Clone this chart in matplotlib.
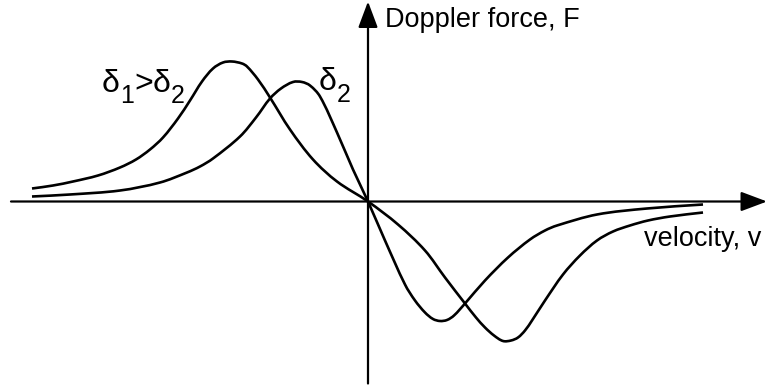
import matplotlib

matplotlib.use('Agg')
import matplotlib.pyplot as plt
from matplotlib.path import Path
from matplotlib.patches import PathPatch
import numpy as np

plt.rcParams['font.family'] = ['Liberation Sans', 'DejaVu Sans']

# curva com delta1 (maior dessintonia)
v_d1 = [-336, -315, -295, -270, -248, -232, -218, -205, -190, -178, -166,
        -155, -145, -136, -126, -121, -110, -98, -78, -55, -31, 0,
        30, 57, 77, 97, 108, 117, 126, 135, 143, 150, 157, 164, 177, 195,
        212, 229, 245, 262, 280, 302, 335]
F_d1 = [13, 16, 20, 26, 34, 42, 52, 64, 83, 101, 120,
        133, 139, 140, 138, 135, 122, 104, 72, 42, 20, 0,
        -23, -49, -76, -102, -116, -126, -134, -139.5, -139, -136, -129, -119,
        -99, -73, -54, -39, -30, -24, -19, -15, -11]

# curva com delta2
v_d2 = [-336, -298, -248, -208, -181, -168, -155, -128, -112, -98, -87, -75,
        -66, -58, -48, -31, -15, 0,
        17, 37, 47, 57, 65, 72, 79, 86, 97, 117, 140, 162, 177, 189, 229,
        279, 335]
F_d2 = [5, 7, 11, 19, 29, 35, 43, 65, 84, 103, 113, 119.5,
        119.5, 116, 105, 69, 32, 0,
        -39, -83, -99, -111, -117.5, -119.5, -118.5, -114, -102, -79, -56,
        -38, -29, -24, -13, -7, -3]


def curva_suave(xs, ys):
    # bezier cubica passando pelos pontos (tangentes tipo Catmull-Rom)
    p = np.column_stack([xs, ys]).astype(float)
    n = len(p)
    d = np.hypot(*np.diff(p, axis=0).T)
    m = np.zeros_like(p)
    for i in range(n):
        a = p[max(i - 1, 0)]
        b = p[min(i + 1, n - 1)]
        s = np.hypot(*(b - a))
        m[i] = (b - a) / s if s > 0 else 0
    verts = [p[0]]
    codes = [Path.MOVETO]
    for i in range(n - 1):
        verts += [p[i] + m[i] * d[i] / 3, p[i + 1] - m[i + 1] * d[i] / 3, p[i + 1]]
        codes += [Path.CURVE4] * 3
    return Path(verts, codes)


fig = plt.figure(figsize=(7.67, 3.87), dpi=100)
ax = fig.add_axes([0, 0, 1, 1])
ax.set_xlim(-368, 399)
ax.set_ylim(-185.5, 201.5)
ax.axis('off')

# eixos com setas
seta = dict(arrowstyle='-|>,head_length=0.8,head_width=0.3', mutation_scale=20,
            lw=1.6, color='black', shrinkA=0, shrinkB=0)
ax.annotate('', xy=(399, 0), xytext=(-357, 0), arrowprops=seta)
ax.annotate('', xy=(0, 200), xytext=(0, -182), arrowprops=seta)

for xs, ys in [(v_d1, F_d1), (v_d2, F_d2)]:
    ax.add_patch(PathPatch(curva_suave(xs, ys), fill=False, lw=1.9,
                           edgecolor='black', capstyle='butt'))

ax.text(17, 174.5, 'Doppler force, F', fontsize=19.5, va='baseline', ha='left')
ax.text(276, -44.5, 'velocity, v', fontsize=19.5, va='baseline', ha='left')

# rotulos delta1 > delta2 e delta2
ax.text(-266, 109.5, 'δ', fontsize=23, va='baseline')
ax.text(-248, 98.5, '1', fontsize=18, va='baseline')
ax.text(-234, 109.5, '>', fontsize=23, va='baseline')
ax.text(-215, 109.5, 'δ', fontsize=23, va='baseline')
ax.text(-197, 98.5, '2', fontsize=18, va='baseline')
ax.text(-49, 111.5, 'δ', fontsize=23, va='baseline')
ax.text(-31, 99.5, '2', fontsize=18, va='baseline')

plt.savefig('out.png', dpi=100)
